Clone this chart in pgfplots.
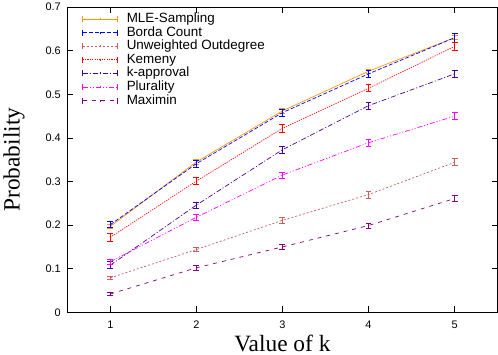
\documentclass[border=0pt]{standalone}
\usepackage{fontspec}
\setmainfont{Liberation Sans}
\newfontfamily\seriffont{Liberation Serif}
\usepackage{pgfplots}
\pgfplotsset{compat=1.18}

\definecolor{cmle}{RGB}{255,150,0}
\definecolor{cborda}{RGB}{0,0,255}
\definecolor{cunw}{RGB}{205,92,92}
\definecolor{ckem}{RGB}{255,0,0}
\definecolor{ckapp}{RGB}{75,0,150}
\definecolor{cplu}{RGB}{255,0,255}
\definecolor{cmax}{RGB}{128,0,128}

\begin{document}
\begin{tikzpicture}
\begin{axis}[
  scale only axis,
  width=433pt, height=307pt,
  xmin=0.5, xmax=5.5,
  ymin=0, ymax=0.7,
  xtick={1,2,3,4,5},
  ytick={0,0.1,0.2,0.3,0.4,0.5,0.6,0.7},
  yticklabel style={/pgf/number format/fixed, xshift=-3pt},
  xticklabel style={yshift=-5pt},
  /pgf/number format/assume math mode=true,
  tick label style={font=\fontsize{11}{13}\selectfont},
  tick align=inside,
  major tick length=6pt,
  xtick pos=both, ytick pos=both,
  axis line style={line width=0.8pt},
  tick style={line width=0.8pt, black},
  xlabel={\seriffont Value of k},
  ylabel={\seriffont Probability},
  label style={font=\fontsize{23.5}{25}\selectfont},
  xlabel style={at={(axis description cs:0.5,-0.127)}, anchor=base},
  ylabel style={at={(axis description cs:-0.111,0.5)}, anchor=base},
  legend style={at={(axis description cs:0.0346,0.980)}, anchor=north west,
    draw=none, fill=none, inner sep=0pt,
    font=\fontsize{13.5}{14}\selectfont, row sep=2.7pt, column sep=9pt,
    nodes={inner sep=0pt, text height=9pt, text depth=2pt}},
  legend cell align=left,
  legend image code/.code={
    \draw[#1] (0pt,0pt) -- (35pt,0pt);
    \draw[#1,solid] (0pt,-3pt) -- (0pt,3pt);
    \draw[#1,solid] (35pt,-3pt) -- (35pt,3pt);
    \draw[#1,solid] (17.5pt,-1pt) -- (17.5pt,1pt);
  },
  every axis plot/.append style={line width=0.7pt, mark=none,
    error bars/y dir=both, error bars/y explicit,
    error bars/error bar style={solid, line width=0.8pt},
    error bars/error mark options={rotate=90, mark size=3pt, solid, line width=0.8pt}},
]
\addplot[cmle] coordinates {(1,0.197) +- (0,0.005) (2,0.345) +- (0,0.005) (3,0.462) +- (0,0.005) (4,0.553) +- (0,0.005) (5,0.630) +- (0,0.005)};
\addlegendentry{MLE-Sampling}
\addplot[cborda, dash pattern=on 4pt off 2pt] coordinates {(1,0.201) +- (0,0.007) (2,0.341) +- (0,0.008) (3,0.458) +- (0,0.008) (4,0.547) +- (0,0.009) (5,0.630) +- (0,0.010)};
\addlegendentry{Borda Count}
\addplot[cunw, dash pattern=on 2pt off 2pt] coordinates {(1,0.079) +- (0,0.004) (2,0.144) +- (0,0.005) (3,0.211) +- (0,0.006) (4,0.270) +- (0,0.008) (5,0.344) +- (0,0.008)};
\addlegendentry{Unweighted Outdegree}
\addplot[ckem, dash pattern=on 1.2pt off 1.2pt] coordinates {(1,0.172) +- (0,0.009) (2,0.301) +- (0,0.008) (3,0.422) +- (0,0.009) (4,0.514) +- (0,0.008) (5,0.610) +- (0,0.009)};
\addlegendentry{Kemeny}
\addplot[ckapp, dash pattern=on 5pt off 2pt on 1pt off 2pt] coordinates {(1,0.108) +- (0,0.008) (2,0.246) +- (0,0.007) (3,0.373) +- (0,0.008) (4,0.474) +- (0,0.008) (5,0.547) +- (0,0.008)};
\addlegendentry{k-approval}
\addplot[cplu, dash pattern=on 5pt off 2pt on 1pt off 2pt on 1pt off 2pt] coordinates {(1,0.116) +- (0,0.005) (2,0.218) +- (0,0.007) (3,0.315) +- (0,0.007) (4,0.389) +- (0,0.008) (5,0.450) +- (0,0.008)};
\addlegendentry{Plurality}
\addplot[cmax, dash pattern=on 4pt off 5pt] coordinates {(1,0.042) +- (0,0.003) (2,0.102) +- (0,0.006) (3,0.150) +- (0,0.005) (4,0.199) +- (0,0.006) (5,0.261) +- (0,0.007)};
\addlegendentry{Maximin}
\end{axis}
\end{tikzpicture}
\end{document}
